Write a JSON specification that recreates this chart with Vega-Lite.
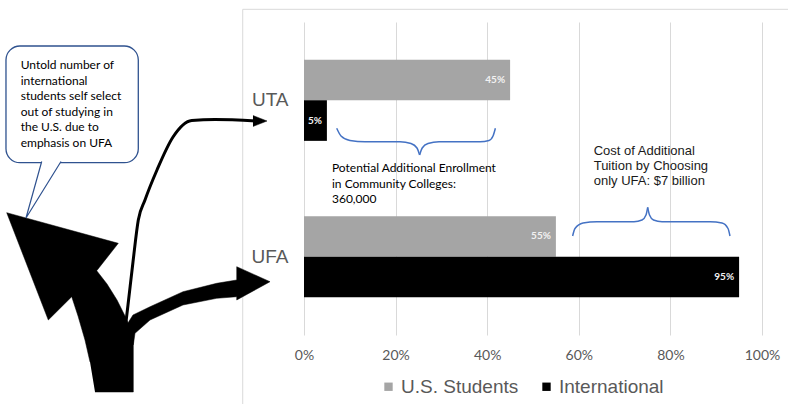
{
  "$schema": "https://vega.github.io/schema/vega-lite/v6.json",
  "width": 788,
  "height": 313,
  "autosize": {"type": "none"},
  "padding": {"left": 0, "right": 0, "top": 22, "bottom": 69},
  "background": "white",
  "config": {"view": {"stroke": null}},
  "datasets": {
    "bars": [
      {"campus": "UTA", "group": "U.S. Students", "value": 0.45},
      {"campus": "UTA", "group": "International", "value": 0.05},
      {"campus": "UFA", "group": "U.S. Students", "value": 0.55},
      {"campus": "UFA", "group": "International", "value": 0.95}
    ],
    "boxes": [
      {"kind": "frame", "x": -0.1338, "x2": 1.10, "y": 0.4189, "y2": 2.979},
      {"kind": "callout", "x": -0.6507, "x2": -0.3618, "y": 0.6534, "y2": 1.3990}
    ],
    "notes": [
      {"kind": "callout", "x": -0.6186, "y": 0.7748, "note": "Untold number of\ninternational\nstudents self select\nout of studying in\nthe U.S. due to\nemphasis on UFA"},
      {"kind": "enroll", "x": 0.0611, "y": 1.4349, "note": "Potential Additional Enrollment\nin Community Colleges:\n360,000"},
      {"kind": "cost", "x": 0.6325, "y": 1.3243, "note": "Cost of Additional\nTuition by Choosing\nonly UFA: $7 billion"}
    ],
    "shapes": [
      {"shape": "big", "i": 0, "x": -0.4563, "y": 2.8643},
      {"shape": "big", "i": 1, "x": -0.3727, "y": 2.8643},
      {"shape": "big", "i": 2, "x": -0.3727, "y": 2.5065},
      {"shape": "big", "i": 3, "x": -0.3886, "y": 2.3914},
      {"shape": "big", "i": 4, "x": -0.4083, "y": 2.2764},
      {"shape": "big", "i": 5, "x": -0.4301, "y": 2.1742},
      {"shape": "big", "i": 6, "x": -0.4526, "y": 2.0892},
      {"shape": "big", "i": 7, "x": -0.4055, "y": 1.9141},
      {"shape": "big", "i": 8, "x": -0.6491, "y": 1.7185},
      {"shape": "big", "i": 9, "x": -0.5583, "y": 2.4042},
      {"shape": "big", "i": 10, "x": -0.5072, "y": 2.2553},
      {"shape": "big", "i": 11, "x": -0.4934, "y": 2.3787},
      {"shape": "big", "i": 12, "x": -0.4782, "y": 2.5320},
      {"shape": "big", "i": 13, "x": -0.4672, "y": 2.6726},
      {"shape": "medium", "i": 0, "x": -0.3886, "y": 2.4426},
      {"shape": "medium", "i": 1, "x": -0.3734, "y": 2.3723},
      {"shape": "medium", "i": 2, "x": -0.3362, "y": 2.3193},
      {"shape": "medium", "i": 3, "x": -0.2642, "y": 2.2234},
      {"shape": "medium", "i": 4, "x": -0.1906, "y": 2.1697},
      {"shape": "medium", "i": 5, "x": -0.1469, "y": 2.1486},
      {"shape": "medium", "i": 6, "x": -0.1469, "y": 2.0636},
      {"shape": "medium", "i": 7, "x": -0.0742, "y": 2.1594},
      {"shape": "medium", "i": 8, "x": -0.1469, "y": 2.2764},
      {"shape": "medium", "i": 9, "x": -0.1469, "y": 2.2553},
      {"shape": "medium", "i": 10, "x": -0.1906, "y": 2.2656},
      {"shape": "medium", "i": 11, "x": -0.2642, "y": 2.3083},
      {"shape": "medium", "i": 12, "x": -0.3362, "y": 2.4042},
      {"shape": "medium", "i": 13, "x": -0.3690, "y": 2.4892},
      {"shape": "medium", "i": 14, "x": -0.3727, "y": 2.5640},
      {"shape": "thinhead", "i": 0, "x": -0.1114, "y": 1.0975},
      {"shape": "thinhead", "i": 1, "x": -0.0808, "y": 1.1326},
      {"shape": "thinhead", "i": 2, "x": -0.1114, "y": 1.1678},
      {"shape": "thin", "i": 0, "x": -0.3908, "y": 2.4681},
      {"shape": "thin", "i": 1, "x": -0.3843, "y": 2.3083},
      {"shape": "thin", "i": 2, "x": -0.3734, "y": 2.0336},
      {"shape": "thin", "i": 3, "x": -0.3618, "y": 1.7652},
      {"shape": "thin", "i": 4, "x": -0.3472, "y": 1.6374},
      {"shape": "thin", "i": 5, "x": -0.3210, "y": 1.4457},
      {"shape": "thin", "i": 6, "x": -0.2860, "y": 1.2349},
      {"shape": "thin", "i": 7, "x": -0.2452, "y": 1.1294},
      {"shape": "thin", "i": 8, "x": -0.1943, "y": 1.1230},
      {"shape": "thin", "i": 9, "x": -0.1048, "y": 1.1326},
      {"shape": "tail", "i": 0, "x": -0.5727, "y": 1.3914},
      {"shape": "tail", "i": 1, "x": -0.6070, "y": 1.7524},
      {"shape": "tail", "i": 2, "x": -0.5306, "y": 1.3914},
      {"shape": "braceLL", "i": 0, "x": 0.0714, "y": 1.1793},
      {"shape": "braceLL", "i": 1, "x": 0.0808, "y": 1.2285},
      {"shape": "braceLL", "i": 2, "x": 0.1004, "y": 1.2572},
      {"shape": "braceLL", "i": 3, "x": 0.1332, "y": 1.2649},
      {"shape": "braceLL", "i": 4, "x": 0.2096, "y": 1.2649},
      {"shape": "braceLL", "i": 5, "x": 0.2336, "y": 1.2764},
      {"shape": "braceLL", "i": 6, "x": 0.2467, "y": 1.3051},
      {"shape": "braceLL", "i": 7, "x": 0.2524, "y": 1.3499},
      {"shape": "braceLR", "i": 0, "x": 0.2524, "y": 1.3499},
      {"shape": "braceLR", "i": 1, "x": 0.2581, "y": 1.3051},
      {"shape": "braceLR", "i": 2, "x": 0.2707, "y": 1.2764},
      {"shape": "braceLR", "i": 3, "x": 0.2948, "y": 1.2649},
      {"shape": "braceLR", "i": 4, "x": 0.3843, "y": 1.2649},
      {"shape": "braceLR", "i": 5, "x": 0.4039, "y": 1.2572},
      {"shape": "braceLR", "i": 6, "x": 0.4127, "y": 1.2285},
      {"shape": "braceLR", "i": 7, "x": 0.4179, "y": 1.1793},
      {"shape": "braceRL", "i": 0, "x": 0.5865, "y": 1.8675},
      {"shape": "braceRL", "i": 1, "x": 0.5917, "y": 1.8195},
      {"shape": "braceRL", "i": 2, "x": 0.6092, "y": 1.7844},
      {"shape": "braceRL", "i": 3, "x": 0.6397, "y": 1.7761},
      {"shape": "braceRL", "i": 4, "x": 0.7205, "y": 1.7761},
      {"shape": "braceRL", "i": 5, "x": 0.7380, "y": 1.7652},
      {"shape": "braceRL", "i": 6, "x": 0.7467, "y": 1.7333},
      {"shape": "braceRL", "i": 7, "x": 0.7504, "y": 1.6841},
      {"shape": "braceRR", "i": 0, "x": 0.7504, "y": 1.6841},
      {"shape": "braceRR", "i": 1, "x": 0.7544, "y": 1.7333},
      {"shape": "braceRR", "i": 2, "x": 0.7631, "y": 1.7652},
      {"shape": "braceRR", "i": 3, "x": 0.7817, "y": 1.7761},
      {"shape": "braceRR", "i": 4, "x": 0.8865, "y": 1.7761},
      {"shape": "braceRR", "i": 5, "x": 0.9127, "y": 1.7844},
      {"shape": "braceRR", "i": 6, "x": 0.9258, "y": 1.8195},
      {"shape": "braceRR", "i": 7, "x": 0.9301, "y": 1.8675}
    ]
  },
  "layer": [
    {
      "data": {"name": "bars"},
      "encoding": {
        "y": {
          "field": "campus", "type": "nominal", "sort": ["UTA", "UFA"],
          "scale": {"paddingInner": 0.481, "paddingOuter": 0.2405},
          "axis": {"title": null, "orient": "left", "offset": -288, "labelPadding": 0, "ticks": false, "domain": false, "grid": false,
                   "labelFont": "Liberation Sans", "labelFontSize": 19, "labelColor": "#595959"}
        },
        "yOffset": {
          "field": "group", "type": "nominal", "sort": ["U.S. Students", "International"],
          "scale": {"paddingInner": 0, "paddingOuter": 0}
        },
        "x": {
          "field": "value", "type": "quantitative", "title": null,
          "scale": {"domain": [-0.66376, 1.05677], "nice": false, "zero": false},
          "axis": {"values": [0, 0.2, 0.4, 0.6, 0.8, 1], "format": ".0%", "title": null, "domain": false, "ticks": false,
                   "grid": true, "gridColor": "#D9D9D9", "gridWidth": 1, "labelFont": "Lato", "labelFontSize": 14,
                   "labelColor": "#595959", "labelPadding": 13, "labelFlush": false}
        }
      },
      "layer": [
        {
          "mark": {"type": "bar"},
          "encoding": {
            "color": {
              "field": "group", "type": "nominal",
              "scale": {"domain": ["U.S. Students", "International"], "range": ["#A5A5A5", "#000000"]},
              "legend": {"orient": "none", "legendX": 379, "legendY": 355, "direction": "horizontal", "title": null,
                         "symbolType": "square", "symbolSize": 70, "labelFont": "Liberation Sans", "labelFontSize": 19,
                         "labelColor": "#595959", "columnPadding": 18, "labelOffset": 3, "padding": 0}
            }
          }
        },
        {
          "mark": {"type": "text", "align": "right", "baseline": "middle", "dx": -5, "font": "Lato", "fontWeight": "bold", "fontSize": 10, "color": "#F2F2F2"},
          "encoding": {"text": {"field": "value", "type": "quantitative", "format": ".0%"}}
        }
      ]
    },
    {
      "encoding": {
        "x": {"field": "x", "type": "quantitative", "title": null, "scale": {"domain": [-0.66376, 1.05677], "nice": false, "zero": false}},
        "y": {"field": "y", "type": "quantitative", "title": null, "axis": null, "scale": {"domain": [0.5, 2.5], "nice": false, "zero": false, "reverse": true}}
      },
      "layer": [
        {
          "data": {"name": "boxes"},
          "transform": [{"filter": "datum.kind === 'frame'"}],
          "mark": {"type": "rect", "fill": "white", "fillOpacity": 0, "stroke": "#D9D9D9", "strokeWidth": 1},
          "encoding": {"x2": {"field": "x2"}, "y2": {"field": "y2"}}
        },
        {
          "data": {"name": "shapes"},
          "transform": [{"filter": "datum.shape === 'big' || datum.shape === 'medium' || datum.shape === 'thinhead'"}],
          "mark": {"type": "line", "interpolate": "linear", "fill": "#000000", "stroke": "#000000", "strokeWidth": 0.5},
          "encoding": {"detail": {"field": "shape"}, "order": {"field": "i", "type": "quantitative"}}
        },
        {
          "data": {"name": "shapes"},
          "transform": [{"filter": "datum.shape === 'thin'"}],
          "mark": {"type": "line", "interpolate": "monotone", "stroke": "#000000", "strokeWidth": 3},
          "encoding": {"order": {"field": "i", "type": "quantitative"}}
        },
        {
          "data": {"name": "shapes"},
          "transform": [{"filter": "indexof(datum.shape, 'brace') === 0"}],
          "mark": {"type": "line", "interpolate": "monotone", "stroke": "#4472C4", "strokeWidth": 1.5},
          "encoding": {"detail": {"field": "shape"}, "order": {"field": "i", "type": "quantitative"}}
        },
        {
          "data": {"name": "boxes"},
          "transform": [{"filter": "datum.kind === 'callout'"}],
          "mark": {"type": "rect", "fill": "white", "stroke": "#2F528F", "strokeWidth": 1.3, "cornerRadius": 14},
          "encoding": {"x2": {"field": "x2"}, "y2": {"field": "y2"}}
        },
        {
          "data": {"name": "shapes"},
          "transform": [{"filter": "datum.shape === 'tail'"}],
          "mark": {"type": "line", "interpolate": "linear", "fill": "white", "stroke": "#2F528F", "strokeWidth": 1.2},
          "encoding": {"order": {"field": "i", "type": "quantitative"}}
        },
        {
          "data": {"name": "notes"},
          "transform": [{"filter": "datum.kind !== 'cost'"}],
          "mark": {"type": "text", "align": "left", "baseline": "middle", "lineBreak": "\n", "lineHeight": 15.5, "font": "Lato", "fontSize": 12, "color": "#000000"},
          "encoding": {"text": {"field": "note"}}
        },
        {
          "data": {"name": "notes"},
          "transform": [{"filter": "datum.kind === 'cost'"}],
          "mark": {"type": "text", "align": "left", "baseline": "middle", "lineBreak": "\n", "lineHeight": 15, "font": "Liberation Sans", "fontSize": 13, "color": "#1a1a1a"},
          "encoding": {"text": {"field": "note"}}
        }
      ]
    }
  ],
  "resolve": {"scale": {"y": "independent"}}
}
